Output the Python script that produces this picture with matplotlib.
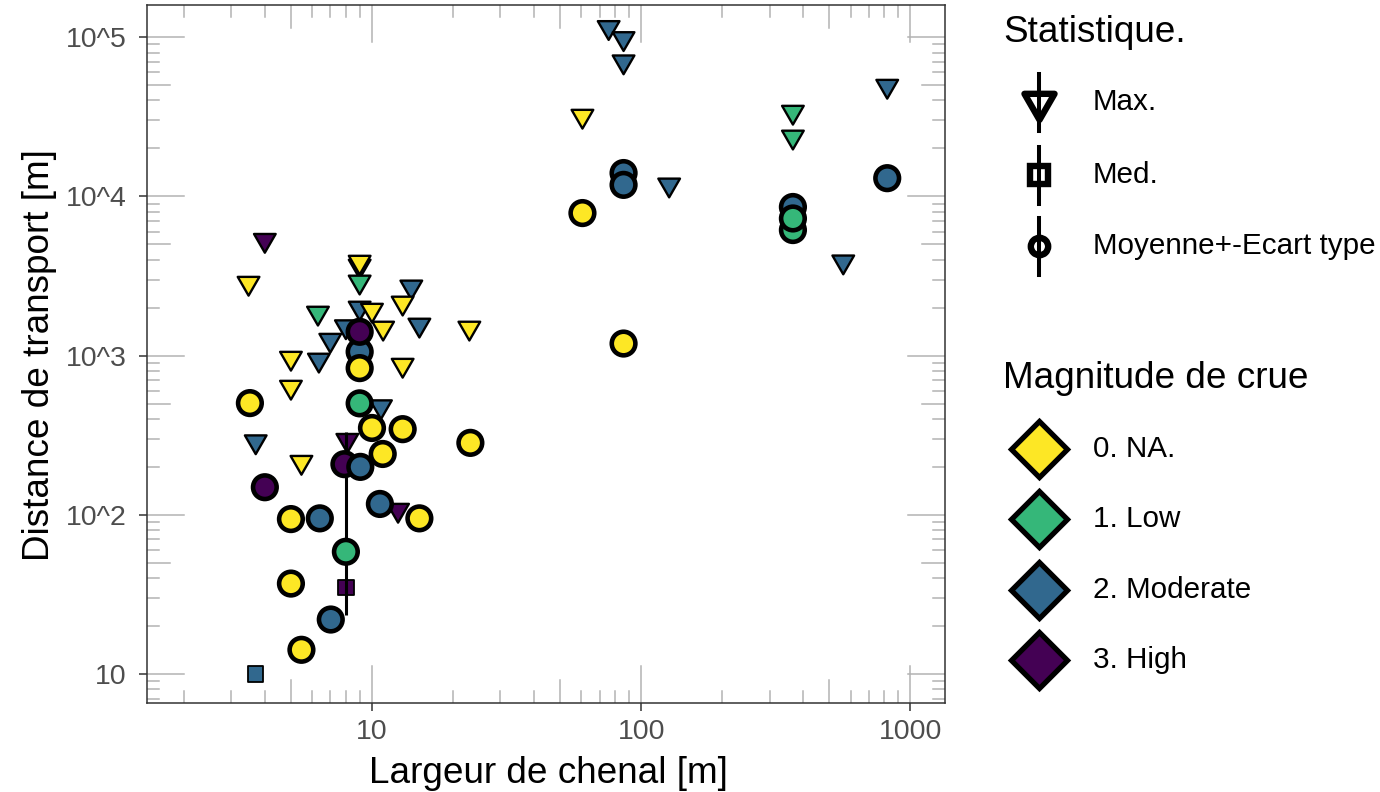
import numpy as np
import matplotlib.pyplot as plt
from matplotlib.path import Path

plt.rcParams['font.family'] = ['Liberation Sans', 'DejaVu Sans']

# classes de magnitude (couleurs viridis)
magnitudes = ['0. NA.', '1. Low', '2. Moderate', '3. High']
mag_colors = ['#FDE725', '#35B779', '#31688E', '#440154']
stat_labels = ['Max.', 'Med.', 'Moyenne+-Ecart type']

# Max. (triangles)
max_x = [4.0, 3.48, 9.0, 9.0, 9.0, 6.3, 9.0, 10.0, 14.0, 13.0, 8.0, 11.0, 15.0, 23.0,
         7.0, 6.35, 5.0, 13.0, 5.0, 3.7, 8.1, 5.47, 10.8, 12.5,
         60.5, 75.7, 86.0, 86.0, 127.0, 366.0, 366.0, 820.0, 563.0]
max_y = [5300, 2850, 3650, 2900, 3865, 1850, 1990, 1930, 2700, 2140, 1520, 1490, 1556, 1490,
         1250, 938, 964, 871, 634, 288, 294, 214, 478, 107,
         31900, 115000, 98000, 70000, 11800, 33800, 23600, 49200, 3880]
max_mag = [3, 0, 2, 1, 0, 1, 2, 0, 2, 0, 2, 0, 2, 0,
           2, 2, 0, 0, 0, 2, 3, 0, 2, 3,
           0, 2, 2, 2, 2, 1, 1, 2, 2]

# Med. (carres)
med_x = [3.7, 8.0]
med_y = [10, 35]
med_mag = [2, 3]

# Moyenne (cercles)
mean_x = [3.52, 5.0, 5.0, 5.47, 4.0, 6.4, 7.03, 8.0, 7.9, 9.05, 9.0, 9.0, 9.0, 9.0,
          10.0, 13.0, 10.96, 10.7, 15.0, 23.2, 60.5, 86.0, 86.0, 86.0, 820.0,
          366.0, 366.0, 366.0]
mean_y = [503, 94, 37, 14.2, 149, 95, 22, 58.6, 208, 200, 501, 1056, 1410, 834,
          351, 345, 241, 117, 95, 283, 7850, 1190, 14000, 11800, 13000,
          8570, 6140, 7260]
mean_mag = [0, 0, 0, 0, 3, 2, 2, 1, 3, 2, 1, 2, 3, 0,
            0, 0, 0, 2, 0, 0, 0, 0, 2, 2, 2,
            2, 1, 1]

# ecart type (seul visible)
sd_x = [8.0]
sd_lo = [23.5]
sd_hi = [330]

tri = Path([(-1, 0.5774), (1, 0.5774), (0, -1.1547), (-1, 0.5774)],
           [Path.MOVETO, Path.LINETO, Path.LINETO, Path.CLOSEPOLY])

fig = plt.figure(figsize=(13.8, 7.92), dpi=100)
W, H = 1380, 792
ax = fig.add_axes([147 / W, (H - 703) / H, (945 - 147) / W, (703 - 5) / H])
ax.set_xscale('log')
ax.set_yscale('log')
ax.set_xlim(1.46, 1344)
ax.set_ylim(6.58, 1.59e5)

# annotation logticks sur les 4 cotes
pw, ph = 945 - 147, 703 - 5
tick_px = {1: 37, 5: 23}
for dec in range(0, 4):
    for k in range(1, 10):
        v = k * 10.0 ** dec
        if not (1.46 <= v <= 1344):
            continue
        f = tick_px.get(k, 12) / ph
        for y0, y1 in [(0, f), (1 - f, 1)]:
            ax.plot([v, v], [y0, y1], color='#B3B3B3', lw=1.1,
                    transform=ax.get_xaxis_transform(), zorder=1)
for dec in range(0, 6):
    for k in range(1, 10):
        v = k * 10.0 ** dec
        if not (6.58 <= v <= 1.59e5):
            continue
        f = tick_px.get(k, 12) / pw
        for x0, x1 in [(0, f), (1 - f, 1)]:
            ax.plot([x0, x1], [v, v], color='#B3B3B3', lw=1.1,
                    transform=ax.get_yaxis_transform(), zorder=1)

ax.scatter(max_x, max_y, marker=tri, s=18 ** 2,
           c=[mag_colors[m] for m in max_mag], edgecolors='black', linewidths=1.7, zorder=2)
ax.scatter(med_x, med_y, marker='s', s=11 ** 2,
           c=[mag_colors[m] for m in med_mag], edgecolors='black', linewidths=1.3, zorder=3)
ax.vlines(sd_x, sd_lo, sd_hi, color='black', lw=2.2, zorder=4)
ax.scatter(mean_x, mean_y, marker='o', s=17 ** 2,
           c=[mag_colors[m] for m in mean_mag], edgecolors='black', linewidths=3.3, zorder=5)

ax.set_xticks([10, 100, 1000])
ax.set_xticklabels(['10', '100', '1000'])
ax.set_yticks([10, 100, 1000, 1e4, 1e5])
ax.set_yticklabels(['10', '10^2', '10^3', '10^4', '10^5'])
ax.minorticks_off()
ax.tick_params(axis='both', length=5.8, width=1.1, color='#333333',
               labelcolor='#4D4D4D', labelsize=20.5)
ax.tick_params(axis='y', pad=9)
ax.tick_params(axis='x', pad=6)
for sp in ax.spines.values():
    sp.set_color('#333333')
    sp.set_linewidth(1.1)

fig.text(548 / W, (H - 783) / H, 'Largeur de chenal [m]', fontsize=26.6,
         ha='center', va='baseline')
fig.text(40 / W, (H - 355) / H, 'Distance de transport [m]', fontsize=26.6,
         ha='center', va='center', rotation=90)

# legendes dessinees a la main
lax = fig.add_axes([0, 0, 1, 1])
lax.set_xlim(0, W)
lax.set_ylim(H, 0)
lax.axis('off')
lax.patch.set_alpha(0)

lax.text(1003, 33, 'Statistique.', fontsize=26.6, va='center', ha='left')
stat_y = [102, 175, 246]
stat_markers = [tri, 's', 'o']
stat_ms = [25, 12.5, 12.5]
for yy, lab, mk, ms in zip(stat_y, stat_labels, stat_markers, stat_ms):
    lax.plot([1039, 1039], [yy - 28, yy + 29], color='black', lw=2.9, zorder=2)
    lax.plot([1039], [yy], marker=mk, ms=ms, mfc='none', mec='black', mew=4.6, zorder=3)
    lax.text(1093, yy, lab, fontsize=21.3, va='center', ha='left')

lax.text(1003, 378, 'Magnitude de crue', fontsize=26.6, va='center', ha='left')
mag_y = [449, 519, 590, 660]
for yy, lab, col in zip(mag_y, magnitudes, mag_colors):
    lax.plot([1039], [yy], marker='D', ms=28.5, mfc=col, mec='black', mew=3.8)
    lax.text(1093, yy, lab, fontsize=21.3, va='center', ha='left')

fig.savefig('out.png', dpi=100)
